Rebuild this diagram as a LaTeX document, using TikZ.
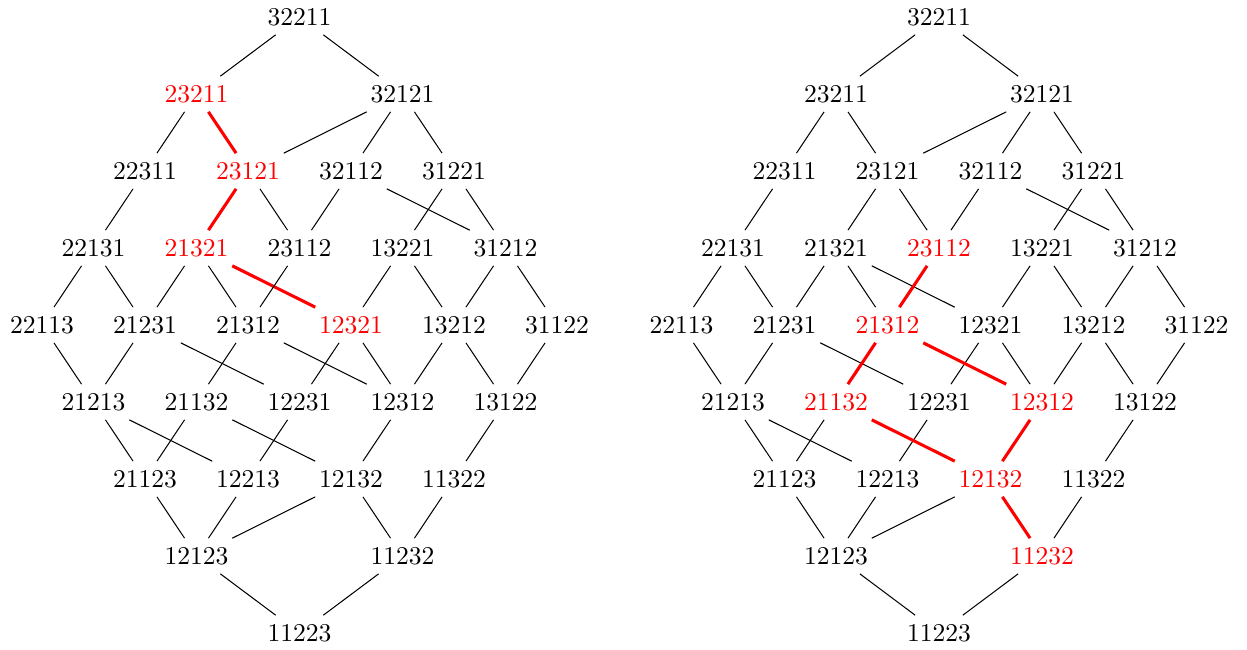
\documentclass[tikz,border=0pt]{standalone}
\begin{document}
\begin{tikzpicture}[x=0.390625pt,y=-0.390625pt,
  lbl/.style={inner sep=0.333em},
  edge/.style={line width=0.4pt,draw=black},
  hi/.style={line width=1.2pt,draw=red}]
\useasboundingbox (0,0) rectangle (1247,649);
\foreach \n/\c/\r/\lc/\rc in {
  32211/5/0/black/black,
  23211/3/1/red/black, 32121/7/1/black/black,
  22311/2/2/black/black, 23121/4/2/red/black, 32112/6/2/black/black, 31221/8/2/black/black,
  22131/1/3/black/black, 21321/3/3/red/black, 23112/5/3/black/red, 13221/7/3/black/black, 31212/9/3/black/black,
  22113/0/4/black/black, 21231/2/4/black/black, 21312/4/4/black/red, 12321/6/4/red/black, 13212/8/4/black/black, 31122/10/4/black/black,
  21213/1/5/black/black, 21132/3/5/black/red, 12231/5/5/black/black, 12312/7/5/black/red, 13122/9/5/black/black,
  21123/2/6/black/black, 12213/4/6/black/black, 12132/6/6/black/red, 11322/8/6/black/black,
  12123/3/7/black/black, 11232/7/7/black/red,
  11223/5/8/black/black}{
  \node[lbl,text=\lc] (L\n) at ({42+51.5*\c},{17+77*\r}) {\n};
  \node[lbl,text=\rc] (R\n) at ({681.5+51.5*\c},{17+77*\r}) {\n};
}
% edges black in both diagrams
\foreach \a/\b in {
  32211/23211, 32211/32121, 23211/22311, 32121/23121, 32121/32112, 32121/31221,
  22311/22131, 23121/23112, 32112/23112, 32112/31212, 31221/13221, 31221/31212,
  22131/22113, 22131/21231, 21321/21231, 21321/21312, 13221/12321, 13221/13212,
  31212/13212, 31212/31122, 22113/21213, 21231/21213, 21231/12231, 12321/12231,
  12321/12312, 13212/12312, 13212/13122, 31122/13122, 21213/21123, 21213/12213,
  21132/21123, 12231/12213, 13122/11322, 21123/12123, 12213/12123, 12132/12123,
  11322/11232, 12123/11223, 11232/11223}{
  \draw[edge] (L\a) -- (L\b);
  \draw[edge] (R\a) -- (R\b);
}
% edges red in the left diagram
\foreach \a/\b in {23211/23121, 23121/21321, 21321/12321}{
  \draw[hi] (L\a) -- (L\b);
  \draw[edge] (R\a) -- (R\b);
}
% edges red in the right diagram
\foreach \a/\b in {23112/21312, 21312/21132, 21312/12312, 21132/12132, 12312/12132, 12132/11232}{
  \draw[edge] (L\a) -- (L\b);
  \draw[hi] (R\a) -- (R\b);
}
\end{tikzpicture}
\end{document}
